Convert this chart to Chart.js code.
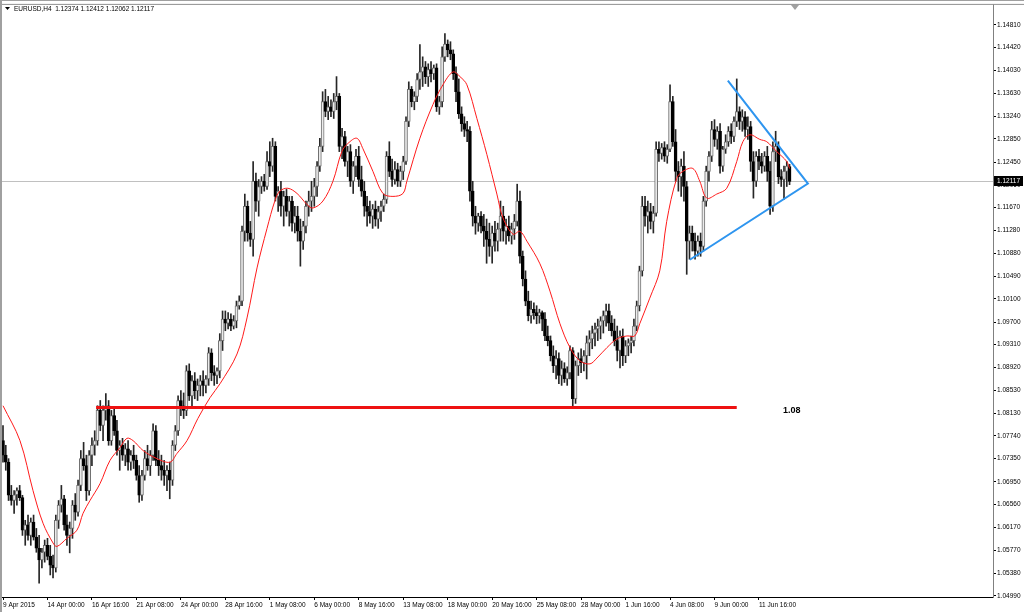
<!DOCTYPE html>
<html>
<head>
<meta charset="utf-8">
<title>EURUSD,H4</title>
<script src="https://cdn.jsdelivr.net/npm/chart.js@4.4.1/dist/chart.umd.min.js"></script>
<style>
  html, body { margin: 0; padding: 0; background: #fff; }
  #wrap { width: 1024px; height: 612px; position: relative; }
</style>
</head>
<body>
<div id="wrap"><canvas id="chart"></canvas></div>
<script>
// EURUSD H4 bars, 9 Apr 2015 08:00 .. 15 Jun 2015
var opens = [
  1.0766,1.0741,1.0729,1.0672,1.0663,1.0673,1.0680,1.0668,1.0612,1.0621,
  1.0603,1.0626,1.0600,1.0581,1.0561,1.0574,1.0586,1.0567,1.0552,1.0547,
  1.0629,1.0655,1.0666,1.0621,1.0603,1.0615,1.0655,1.0643,1.0689,1.0735,
  1.0723,1.0680,1.0741,1.0758,1.0766,1.0818,1.0792,1.0818,1.0826,1.0766,
  1.0809,1.0783,1.0749,1.0758,1.0741,1.0752,1.0729,1.0741,1.0732,1.0706,
  1.0672,1.0706,1.0735,1.0723,1.0741,1.0783,1.0732,1.0723,1.0715,1.0706,
  1.0715,1.0698,1.0758,1.0783,1.0835,1.0826,1.0818,1.0886,1.0843,1.0869,
  1.0852,1.0861,1.0869,1.0861,1.0872,1.0917,1.0883,1.0878,1.0886,1.0938,
  1.0975,1.0968,1.0975,1.0963,1.0972,1.0998,1.1006,1.1126,1.1169,1.1123,
  1.1112,1.1212,1.1178,1.1203,1.1212,1.1203,1.1246,1.1238,1.1272,1.1186,
  1.1195,1.1169,1.1186,1.1160,1.1178,1.1140,1.1152,1.1126,1.1109,1.1135,
  1.1169,1.1178,1.1186,1.1203,1.1238,1.1272,1.1349,1.1332,1.1340,1.1332,
  1.1349,1.1358,1.1272,1.1289,1.1246,1.1263,1.1212,1.1238,1.1255,1.1215,
  1.1195,1.1169,1.1160,1.1152,1.1164,1.1147,1.1160,1.1169,1.1181,1.1255,
  1.1229,1.1215,1.1232,1.1212,1.1229,1.1246,1.1315,1.1370,1.1349,1.1358,
  1.1387,1.1400,1.1409,1.1392,1.1404,1.1397,1.1407,1.1340,1.1349,1.1426,
  1.1448,1.1438,1.1431,1.1397,1.1366,1.1328,1.1311,1.1301,1.1298,1.1195,
  1.1152,1.1140,1.1152,1.1135,1.1126,1.1112,1.1100,1.1123,1.1109,1.1130,
  1.1152,1.1126,1.1135,1.1118,1.1130,1.1143,1.1178,1.1083,1.1044,1.1006,
  1.0981,1.0992,1.0986,1.0981,1.0986,1.0975,1.0946,1.0938,1.0912,1.0895,
  1.0907,1.0878,1.0890,1.0872,1.0883,1.0921,1.0838,1.0895,1.0907,1.0900,
  1.0912,1.0934,1.0941,1.0951,1.0958,1.0963,1.0972,1.0981,1.0989,1.0968,
  1.0955,1.0938,1.0921,1.0946,1.0912,1.0929,1.0934,1.0938,1.0963,1.0998,
  1.1058,1.1169,1.1152,1.1160,1.1143,1.1157,1.1267,1.1260,1.1270,1.1255,
  1.1267,1.1349,1.1280,1.1229,1.1220,1.1238,1.1203,1.1109,1.1123,1.1109,
  1.1092,1.1109,1.1100,1.1178,1.1229,1.1255,1.1301,1.1284,1.1298,1.1238,
  1.1267,1.1280,1.1298,1.1289,1.1315,1.1332,1.1315,1.1323,1.1301,1.1306,
  1.1246,1.1212,1.1255,1.1246,1.1238,1.1255,1.1229,1.1169,1.1263,1.1272,
  1.1220,1.1215,1.1229,1.12374
];
var highs = [
  1.0792,1.0758,1.0735,1.0689,1.0680,1.0685,1.0689,1.0672,1.0629,1.0638,
  1.0633,1.0638,1.0615,1.0603,1.0581,1.0595,1.0598,1.0586,1.0569,1.0638,
  1.0663,1.0689,1.0672,1.0638,1.0626,1.0663,1.0675,1.0698,1.0749,1.0763,
  1.0741,1.0749,1.0771,1.0783,1.0826,1.0835,1.0826,1.0847,1.0835,1.0818,
  1.0821,1.0801,1.0766,1.0770,1.0761,1.0766,1.0749,1.0758,1.0741,1.0723,
  1.0715,1.0749,1.0758,1.0749,1.0795,1.0792,1.0749,1.0741,1.0732,1.0723,
  1.0729,1.0766,1.0792,1.0843,1.0852,1.0848,1.0895,1.0898,1.0878,1.0883,
  1.0872,1.0878,1.0886,1.0878,1.0926,1.0924,1.0895,1.0891,1.0950,1.0989,
  1.0989,1.0986,1.0984,1.0981,1.1006,1.1015,1.1135,1.1190,1.1178,1.1143,
  1.1246,1.1226,1.1215,1.1220,1.1224,1.1263,1.1280,1.1286,1.1280,1.1203,
  1.1212,1.1195,1.1198,1.1186,1.1186,1.1169,1.1169,1.1147,1.1143,1.1178,
  1.1195,1.1212,1.1217,1.1246,1.1286,1.1366,1.1370,1.1358,1.1352,1.1363,
  1.1392,1.1363,1.1303,1.1298,1.1272,1.1275,1.1246,1.1267,1.1272,1.1238,
  1.1212,1.1186,1.1178,1.1172,1.1178,1.1169,1.1178,1.1190,1.1263,1.1280,
  1.1250,1.1246,1.1243,1.1238,1.1255,1.1323,1.1383,1.1375,1.1366,1.1397,
  1.1447,1.1426,1.1418,1.1414,1.1418,1.1412,1.1414,1.1358,1.1443,1.1466,
  1.1455,1.1452,1.1438,1.1409,1.1388,1.1340,1.1323,1.1315,1.1306,1.1212,
  1.1169,1.1157,1.1160,1.1155,1.1147,1.1140,1.1135,1.1143,1.1140,1.1178,
  1.1169,1.1147,1.1152,1.1140,1.1155,1.1207,1.1195,1.1092,1.1058,1.1023,
  1.1006,1.1003,1.0998,1.0992,1.0989,1.0986,1.0963,1.0946,1.0929,1.0921,
  1.0917,1.0903,1.0900,1.0893,1.0929,1.0926,1.0903,1.0917,1.0924,1.0921,
  1.0946,1.0955,1.0963,1.0968,1.0975,1.0979,1.0989,1.1001,1.1001,1.0981,
  1.0975,1.0963,1.0955,1.0958,1.0938,1.0941,1.0946,1.0975,1.1006,1.1066,
  1.1186,1.1186,1.1178,1.1174,1.1169,1.1280,1.1280,1.1277,1.1280,1.1275,
  1.1378,1.1358,1.1301,1.1246,1.1250,1.1263,1.1212,1.1135,1.1135,1.1123,
  1.1118,1.1123,1.1186,1.1238,1.1263,1.1315,1.1318,1.1306,1.1311,1.1272,
  1.1292,1.1306,1.1311,1.1323,1.1388,1.1340,1.1335,1.1332,1.1323,1.1315,
  1.1263,1.1263,1.1267,1.1260,1.1263,1.1272,1.1246,1.1280,1.1298,1.1280,
  1.1232,1.1238,1.1246,1.12412
];
var lows = [
  1.0729,1.0715,1.0663,1.0655,1.0641,1.0655,1.0663,1.0603,1.0586,1.0595,
  1.0586,1.0595,1.0574,1.0521,1.0547,1.0557,1.0561,1.0535,1.0530,1.0540,
  1.0615,1.0643,1.0612,1.0586,1.0573,1.0598,1.0629,1.0636,1.0680,1.0715,
  1.0663,1.0672,1.0723,1.0741,1.0758,1.0783,1.0766,1.0801,1.0758,1.0758,
  1.0775,1.0741,1.0715,1.0732,1.0723,1.0715,1.0715,1.0718,1.0698,1.0660,
  1.0663,1.0698,1.0715,1.0706,1.0732,1.0723,1.0706,1.0698,1.0689,1.0680,
  1.0666,1.0689,1.0749,1.0775,1.0809,1.0804,1.0809,1.0835,1.0826,1.0838,
  1.0835,1.0843,1.0843,1.0848,1.0861,1.0869,1.0861,1.0864,1.0874,1.0921,
  1.0955,1.0958,1.0955,1.0958,1.0960,1.0992,1.0998,1.1109,1.1109,1.1100,
  1.1083,1.1160,1.1152,1.1191,1.1195,1.1198,1.1220,1.1229,1.1178,1.1160,
  1.1152,1.1135,1.1152,1.1135,1.1126,1.1123,1.1109,1.1066,1.1095,1.1123,
  1.1152,1.1160,1.1169,1.1186,1.1229,1.1263,1.1323,1.1318,1.1323,1.1320,
  1.1335,1.1263,1.1251,1.1238,1.1220,1.1203,1.1191,1.1220,1.1203,1.1186,
  1.1152,1.1135,1.1140,1.1131,1.1135,1.1131,1.1143,1.1160,1.1174,1.1220,
  1.1203,1.1207,1.1203,1.1203,1.1215,1.1241,1.1306,1.1340,1.1335,1.1349,
  1.1370,1.1375,1.1380,1.1375,1.1383,1.1387,1.1332,1.1327,1.1340,1.1418,
  1.1426,1.1421,1.1387,1.1349,1.1320,1.1298,1.1289,1.1280,1.1178,1.1135,
  1.1121,1.1126,1.1123,1.1100,1.1071,1.1083,1.1071,1.1092,1.1092,1.1109,
  1.1109,1.1104,1.1109,1.1104,1.1112,1.1135,1.1071,1.1032,1.0998,1.0972,
  1.0968,1.0975,1.0967,1.0968,1.0955,1.0938,1.0929,1.0903,1.0883,1.0872,
  1.0864,1.0861,1.0866,1.0861,1.0872,1.0826,1.0830,1.0878,1.0883,1.0886,
  1.0872,1.0912,1.0924,1.0929,1.0938,1.0941,1.0951,1.0963,1.0955,1.0946,
  1.0929,1.0903,1.0891,1.0895,1.0900,1.0912,1.0917,1.0929,1.0955,1.0989,
  1.1049,1.1135,1.1123,1.1130,1.1123,1.1152,1.1246,1.1250,1.1246,1.1243,
  1.1263,1.1272,1.1212,1.1195,1.1186,1.1178,1.1052,1.1078,1.1092,1.1078,
  1.1083,1.1083,1.1092,1.1169,1.1212,1.1246,1.1272,1.1267,1.1226,1.1229,
  1.1260,1.1272,1.1277,1.1280,1.1306,1.1301,1.1298,1.1289,1.1284,1.1229,
  1.1183,1.1203,1.1232,1.1226,1.1229,1.1212,1.1155,1.1160,1.1246,1.1208,
  1.1203,1.1181,1.1203,1.12062
];
var closes = [
  1.0741,1.0729,1.0672,1.0663,1.0673,1.0680,1.0668,1.0612,1.0621,1.0603,
  1.0626,1.0600,1.0581,1.0561,1.0574,1.0586,1.0567,1.0552,1.0547,1.0629,
  1.0655,1.0666,1.0621,1.0603,1.0615,1.0655,1.0643,1.0689,1.0735,1.0723,
  1.0680,1.0741,1.0758,1.0766,1.0818,1.0792,1.0818,1.0826,1.0766,1.0809,
  1.0783,1.0749,1.0758,1.0741,1.0752,1.0729,1.0741,1.0732,1.0706,1.0672,
  1.0706,1.0735,1.0723,1.0741,1.0783,1.0732,1.0723,1.0715,1.0706,1.0715,
  1.0698,1.0758,1.0783,1.0835,1.0826,1.0818,1.0886,1.0843,1.0869,1.0852,
  1.0861,1.0869,1.0861,1.0872,1.0917,1.0883,1.0878,1.0886,1.0938,1.0975,
  1.0968,1.0975,1.0963,1.0972,1.0998,1.1006,1.1126,1.1169,1.1123,1.1112,
  1.1212,1.1178,1.1203,1.1212,1.1203,1.1246,1.1238,1.1272,1.1186,1.1195,
  1.1169,1.1186,1.1160,1.1178,1.1140,1.1152,1.1126,1.1109,1.1135,1.1169,
  1.1178,1.1186,1.1203,1.1238,1.1272,1.1349,1.1332,1.1340,1.1332,1.1349,
  1.1358,1.1272,1.1289,1.1246,1.1263,1.1212,1.1238,1.1255,1.1215,1.1195,
  1.1169,1.1160,1.1152,1.1164,1.1147,1.1160,1.1169,1.1181,1.1255,1.1229,
  1.1215,1.1232,1.1212,1.1229,1.1246,1.1315,1.1370,1.1349,1.1358,1.1387,
  1.1400,1.1409,1.1392,1.1404,1.1397,1.1407,1.1340,1.1349,1.1426,1.1448,
  1.1438,1.1431,1.1397,1.1366,1.1328,1.1311,1.1301,1.1298,1.1195,1.1152,
  1.1140,1.1152,1.1135,1.1126,1.1112,1.1100,1.1123,1.1109,1.1130,1.1152,
  1.1126,1.1135,1.1118,1.1130,1.1143,1.1178,1.1083,1.1044,1.1006,1.0981,
  1.0992,1.0986,1.0981,1.0986,1.0975,1.0946,1.0938,1.0912,1.0895,1.0907,
  1.0878,1.0890,1.0872,1.0883,1.0921,1.0838,1.0895,1.0907,1.0900,1.0912,
  1.0934,1.0941,1.0951,1.0958,1.0963,1.0972,1.0981,1.0989,1.0968,1.0955,
  1.0938,1.0921,1.0946,1.0912,1.0929,1.0934,1.0938,1.0963,1.0998,1.1058,
  1.1169,1.1152,1.1160,1.1143,1.1157,1.1267,1.1260,1.1270,1.1255,1.1267,
  1.1349,1.1280,1.1229,1.1220,1.1238,1.1203,1.1109,1.1123,1.1109,1.1092,
  1.1109,1.1100,1.1178,1.1229,1.1255,1.1301,1.1284,1.1298,1.1238,1.1267,
  1.1280,1.1298,1.1289,1.1315,1.1332,1.1315,1.1323,1.1301,1.1306,1.1246,
  1.1212,1.1255,1.1246,1.1238,1.1255,1.1229,1.1169,1.1263,1.1272,1.1220,
  1.1215,1.1229,1.1238,1.12117
];

// red moving average (bar position, price)
var maIdx = [0,6.1,10.8,14.4,18,19.4,23,26.6,28.8,31.3,
  34.9,38.5,42.1,44.6,46.8,50.4,55.4,60.1,62.6,66.2,
  70.1,74.5,78.1,84.2,87.8,91.4,95,97.8,99.6,102.5,
  105.8,109.4,111.5,115.1,118.7,121.9,124.1,127.3,129.5,133.1,
  136.7,140.3,143.9,145.3,150,154.7,158.3,161.9,164.4,166.9,
  170.5,174.1,177.7,179.9,183.5,186,188.5,193.2,196.8,200.4,
  204,207.6,211.2,213.7,217.3,220.9,224.5,227.3,229.1,232.7,
  236.3,238.8,242.4,244.6,248.2,250.7,253.2,256.8,260.4,264,
  266.2,268.7,272.3,274.8,278.4,282,283];
var maVal = [1.0826,1.0766,1.0680,1.0624,1.0590,1.0584,1.0598,1.0612,1.0641,1.0663,
  1.0692,1.0732,1.0754,1.0770,1.0766,1.0749,1.0735,1.0729,1.0744,1.0766,
  1.0804,1.0840,1.0864,1.0915,1.0977,1.1063,1.1131,1.1178,1.1195,1.1200,
  1.1191,1.1172,1.1166,1.1178,1.1212,1.1263,1.1277,1.1286,1.1268,1.1229,
  1.1191,1.1186,1.1191,1.1212,1.1286,1.1344,1.1378,1.1400,1.1392,1.1378,
  1.1320,1.1258,1.1190,1.1149,1.1121,1.1126,1.1109,1.1070,1.1023,1.0967,
  1.0926,1.0903,1.0898,1.0908,1.0926,1.0941,1.0946,1.0946,1.0967,1.1011,
  1.1058,1.1143,1.1217,1.1229,1.1234,1.1212,1.1183,1.1190,1.1200,1.1246,
  1.1280,1.1292,1.1284,1.1280,1.1263,1.1246,1.1234];

// drawn objects
var supportIdx = [33.5, 264];
var supportLevel = 1.0823;
var supportText = '1.08';
var supportTextIdx = 280.6;
var triangleIdx = [260.8, 289.6, 247.1];
var trianglePrice = [1.1385, 1.1208, 1.1077];

var lastPrice = 1.12117;
var headerText = 'EURUSD,H4  1.12374 1.12412 1.12062 1.12117';
var shiftIdx = 285;

// axis labels
var tickIdx = [0,16,32,48,64,80,96,112,128,144,160,176,192,208,224,240,256,272];
var tickText = ['9 Apr 2015','14 Apr 00:00','16 Apr 16:00','21 Apr 08:00','24 Apr 00:00',
  '28 Apr 16:00','1 May 08:00','6 May 00:00','8 May 16:00','13 May 08:00','18 May 00:00',
  '20 May 16:00','25 May 08:00','28 May 00:00','1 Jun 16:00','4 Jun 08:00','9 Jun 00:00','11 Jun 16:00'];
var yTicks = [1.14810,1.14420,1.14030,1.13630,1.13240,1.12850,1.12450,1.12060,1.11670,1.11280,
  1.10880,1.10490,1.10100,1.09700,1.09310,1.08920,1.08530,1.08130,1.07740,1.07350,
  1.06950,1.06560,1.06170,1.05770,1.05380,1.04990];

var FONT = 'Liberation Sans';

function isBull(i) {
  return closes[i] >= opens[i];
}

var mtDecor = {
  id: 'mtDecor',
  beforeDatasetsDraw: function (chart) {
    var ctx = chart.ctx, a = chart.chartArea;
    var py = Math.round(chart.scales.y.getPixelForValue(lastPrice)) + 0.5;
    ctx.save();
    ctx.strokeStyle = '#c0c0c0';
    ctx.lineWidth = 1;
    ctx.beginPath();
    ctx.moveTo(a.left, py);
    ctx.lineTo(a.right, py);
    ctx.stroke();
    ctx.restore();
  },
  afterDraw: function (chart) {
    var ctx = chart.ctx, a = chart.chartArea;
    var xs = chart.scales.x, ys = chart.scales.y;
    ctx.save();

    // window frame
    ctx.fillStyle = '#a0a0a0';
    ctx.fillRect(0, 0, 2, chart.height);
    ctx.fillRect(0, 0, chart.width, 1);
    ctx.strokeStyle = '#909090';
    ctx.lineWidth = 1;
    ctx.beginPath();
    ctx.moveTo(a.left, a.top - 0.5);
    ctx.lineTo(chart.width, a.top - 0.5);
    ctx.stroke();

    // chart shift marker
    var sx = Math.round(xs.getPixelForValue(shiftIdx));
    ctx.fillStyle = '#a0a0a0';
    ctx.beginPath();
    ctx.moveTo(sx - 4, a.top);
    ctx.lineTo(sx + 4, a.top);
    ctx.lineTo(sx, a.top + 5);
    ctx.closePath();
    ctx.fill();

    // header
    ctx.fillStyle = '#000';
    ctx.beginPath();
    ctx.moveTo(5, 7);
    ctx.lineTo(10, 7);
    ctx.lineTo(7.5, 10);
    ctx.closePath();
    ctx.fill();
    ctx.font = '6.5px "' + FONT + '"';
    ctx.textBaseline = 'middle';
    ctx.textAlign = 'left';
    ctx.fillText(headerText, 14, 9);

    // support label
    ctx.font = 'bold 9px "' + FONT + '"';
    ctx.fillText(supportText, xs.getPixelForValue(supportTextIdx), ys.getPixelForValue(supportLevel) + 3);

    // current price tag
    var py = Math.round(ys.getPixelForValue(lastPrice));
    ctx.fillStyle = '#000';
    ctx.fillRect(a.right + 1, py - 5, chart.width - a.right - 2, 10);
    ctx.fillStyle = '#fff';
    ctx.font = '6.5px "' + FONT + '"';
    ctx.fillText(lastPrice.toFixed(5), a.right + 4, py);
    ctx.restore();
  }
};

var bodyData = opens.map(function (o, i) { return { x: i, y: [o, closes[i]] }; });
var wickData = lows.map(function (l, i) { return { x: i, y: [l, highs[i]] }; });
var maData = maIdx.map(function (x, i) { return { x: x, y: maVal[i] }; });
var supportData = supportIdx.map(function (x) { return { x: x, y: supportLevel }; });
var triangleData = triangleIdx.map(function (x, i) { return { x: x, y: trianglePrice[i] }; });

new Chart(document.getElementById('chart'), {
  type: 'bar',
  data: {
    datasets: [
      {
        type: 'line', data: maData, borderColor: '#ff1a1a', borderWidth: 1,
        pointRadius: 0, tension: 0.35, order: 0
      },
      {
        type: 'line', data: supportData, borderColor: '#ee1111', borderWidth: 3,
        pointRadius: 0, order: 1
      },
      {
        type: 'line', data: triangleData, borderColor: '#2e95ef', borderWidth: 2,
        pointRadius: 0, order: 1
      },
      {
        data: bodyData, grouped: false, barThickness: 3, minBarLength: 1,
        borderSkipped: false, borderWidth: 1, order: 2,
        backgroundColor: function (c) { return isBull(c.dataIndex) ? '#ececec' : '#000000'; },
        borderColor: function (c) { return isBull(c.dataIndex) ? '#707070' : '#000000'; }
      },
      {
        data: wickData, grouped: false, barThickness: 1, borderWidth: 0,
        backgroundColor: '#262626', order: 3
      }
    ]
  },
  options: {
    responsive: true,
    maintainAspectRatio: false,
    devicePixelRatio: 1,
    animation: false,
    events: [],
    layout: { padding: { left: 2, top: 3, right: 0, bottom: 0 } },
    plugins: { legend: { display: false }, tooltip: { enabled: false } },
    scales: {
      x: {
        type: 'linear', min: -0.36, max: 356.2, bounds: 'data', offset: false,
        afterBuildTicks: function (s) { s.ticks = tickIdx.map(function (v) { return { value: v }; }); },
        afterFit: function (s) { s.height = 15; },
        grid: { drawOnChartArea: false, offset: false, tickLength: 3, color: '#000' },
        border: { display: true, color: '#000', width: 1 },
        ticks: {
          autoSkip: false, maxRotation: 0, align: 'start', padding: 1, color: '#000',
          font: { family: FONT, size: 6.5 },
          callback: function (v) { var k = tickIdx.indexOf(v); return k < 0 ? '' : tickText[k]; }
        }
      },
      y: {
        position: 'right', min: 1.04971, max: 1.15153, bounds: 'data',
        afterBuildTicks: function (s) { s.ticks = yTicks.map(function (v) { return { value: v }; }); },
        afterFit: function (s) { s.width = 31; },
        grid: { drawOnChartArea: false, tickLength: 3, color: '#000' },
        border: { display: true, color: '#808080', width: 1 },
        ticks: {
          autoSkip: false, padding: 1, color: '#000',
          font: { family: FONT, size: 6.5 },
          callback: function (v) { return v.toFixed(5); }
        }
      }
    }
  },
  plugins: [mtDecor]
});
</script>
</body>
</html>
